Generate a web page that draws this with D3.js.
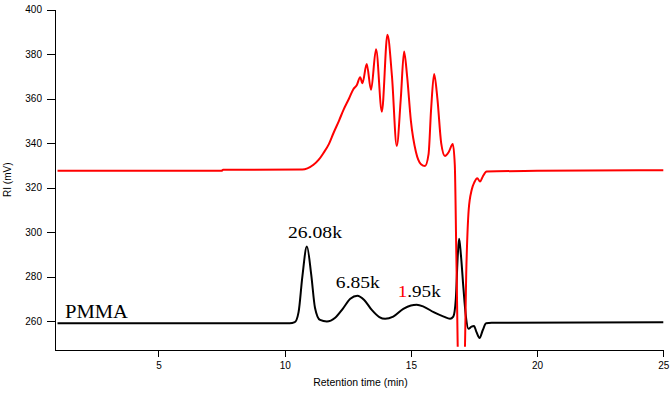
<!DOCTYPE html>
<html>
<head>
<meta charset="utf-8">
<script src="https://cdn.jsdelivr.net/npm/d3@7"></script>
<style>
  body { margin: 0; background: #fff; }
  svg { display: block; }
  .axis text { font-family: Arial, "Liberation Sans", sans-serif; font-size: 10px; fill: #000; }
  .axis path, .axis line { stroke: #000; stroke-width: 1; shape-rendering: crispEdges; }
</style>
</head>
<body>
<svg id="chart"></svg>
<script>
// Retention time (min) / RI (mV)
const pmmaTime = [1.0, 10.2, 10.4, 10.55, 10.7, 10.88, 11.05, 11.2, 11.4, 11.67, 12.0, 12.3, 12.6, 12.88,
  13.15, 13.45, 13.75, 13.98, 14.3, 14.7, 15.0, 15.23, 15.5, 15.9, 16.3, 16.55, 16.68, 16.78, 16.86, 16.91,
  16.98, 17.08, 17.18, 17.28, 17.4, 17.5, 17.6, 17.72, 17.85, 17.98, 18.2, 25.0];
const pmmaRI = [259.0, 259.0, 259.5, 264, 280, 293.5, 281, 266, 260.5, 259.8, 261.5, 265.5, 270, 271.4,
  269.5, 265, 261.8, 261.0, 262, 265.5, 267, 267.3, 266.5, 264, 262, 261, 262, 270, 290, 297,
  290, 275, 262, 256.5, 257.5, 257.8, 255, 252.4, 256, 259, 259.2, 259.5];

const sampleTime = [1.0, 7.5, 7.56, 10.7, 10.9, 11.14, 11.35, 11.53, 11.75, 11.93, 12.15, 12.33, 12.55, 12.72,
  12.86, 12.99, 13.08, 13.25, 13.42, 13.62, 13.85, 14.07, 14.25, 14.44, 14.6, 14.73, 14.85, 15.0, 15.2, 15.4,
  15.56, 15.7, 15.8, 15.92, 16.05, 16.2, 16.35, 16.5, 16.66, 16.74, 16.8, 16.9, 17.1, 17.2, 17.29, 17.41,
  17.52, 17.63, 17.74, 17.85, 18.0, 20.0, 25.0];
const sampleRI = [327.5, 327.5, 328, 328.1, 328.6, 330.2, 332.5, 335.4, 339.5, 344.4, 350, 354.9, 360, 364.2,
  366.1, 369.6, 366.9, 375.5, 363.9, 382.1, 354.1, 388.6, 370, 338.7, 360, 381.1, 370, 350, 336, 330.5,
  329.7, 335, 355, 371.0, 360, 340, 334.2, 336, 339.6, 330, 290, 230, 230, 285, 310, 319,
  322.5, 324.2, 322.7, 325, 327.2, 327.5, 327.8];

const xTicks = [5, 10, 15, 20, 25];
const yTicks = [260, 280, 300, 320, 340, 360, 380, 400];

const labels = [
  { t: 11.2, v: 297.3, text: "26.08k", len: 54 },
  { t: 12.9, v: 274.8, text: "6.85k", len: 44 },
  { t: 15.33, v: 271.0, text: "1.95k", len: 43, redFirst: true }
];

const W = 672, H = 393;
const margin = { top: 9.5, right: 8.7, bottom: 43, left: 55 };
const width = W - margin.left - margin.right;
const height = H - margin.top - margin.bottom;

const svg = d3.select("#chart").attr("width", W).attr("height", H);
const g = svg.append("g").attr("transform", `translate(${margin.left},${margin.top})`);

const x = d3.scaleLinear().domain([0.9, 25]).range([0, width]);
const y = d3.scaleLinear().domain([247, 400]).range([height, 0]);

// clip so the dips below the plot don't show
g.append("clipPath").attr("id", "clip").append("rect")
  .attr("x", 0).attr("y", -5).attr("width", width + 2).attr("height", y(248.5) + 5);

const line = d3.line().x(d => x(d[0])).y(d => y(d[1])).curve(d3.curveMonotoneX);

g.append("path")
  .datum(d3.zip(pmmaTime, pmmaRI))
  .attr("clip-path", "url(#clip)")
  .attr("fill", "none").attr("stroke", "#000").attr("stroke-width", 2)
  .attr("d", line);

g.append("path")
  .datum(d3.zip(sampleTime, sampleRI))
  .attr("clip-path", "url(#clip)")
  .attr("fill", "none").attr("stroke", "#ff0000").attr("stroke-width", 2)
  .attr("d", line);

// axes
g.append("g").attr("class", "axis")
  .attr("transform", `translate(0,${height})`)
  .call(d3.axisBottom(x).tickValues(xTicks).tickSize(7).tickSizeOuter(0).tickPadding(5));

g.append("g").attr("class", "axis")
  .call(d3.axisLeft(y).tickValues(yTicks).tickSize(8).tickSizeOuter(0).tickPadding(5));

// axis titles
svg.append("text")
  .attr("x", margin.left + x(13)).attr("y", 386)
  .attr("text-anchor", "middle")
  .style("font-family", "Arial, 'Liberation Sans', sans-serif").style("font-size", "10.5px")
  .text("Retention time (min)");

svg.append("text")
  .attr("transform", `translate(11,${margin.top + height / 2}) rotate(-90)`)
  .attr("text-anchor", "middle")
  .style("font-family", "Arial, 'Liberation Sans', sans-serif").style("font-size", "10px")
  .text("RI (mV)");

// peak annotations
const serif = "'Times New Roman', 'Liberation Serif', serif";
labels.forEach(d => {
  const t = g.append("text")
    .attr("x", x(d.t) - d.len / 2).attr("y", y(d.v))
    .attr("textLength", d.len).attr("lengthAdjust", "spacingAndGlyphs")
    .style("font-family", serif).style("font-size", "17px").style("fill", "#000");
  if (d.redFirst) {
    t.append("tspan").style("fill", "#ff0000").text(d.text[0]);
    t.append("tspan").text(d.text.slice(1));
  } else {
    t.text(d.text);
  }
});

g.append("text")
  .attr("x", 10).attr("y", y(261.3))
  .attr("textLength", 63).attr("lengthAdjust", "spacingAndGlyphs")
  .style("font-family", serif).style("font-size", "18px")
  .text("PMMA");
</script>
</body>
</html>
